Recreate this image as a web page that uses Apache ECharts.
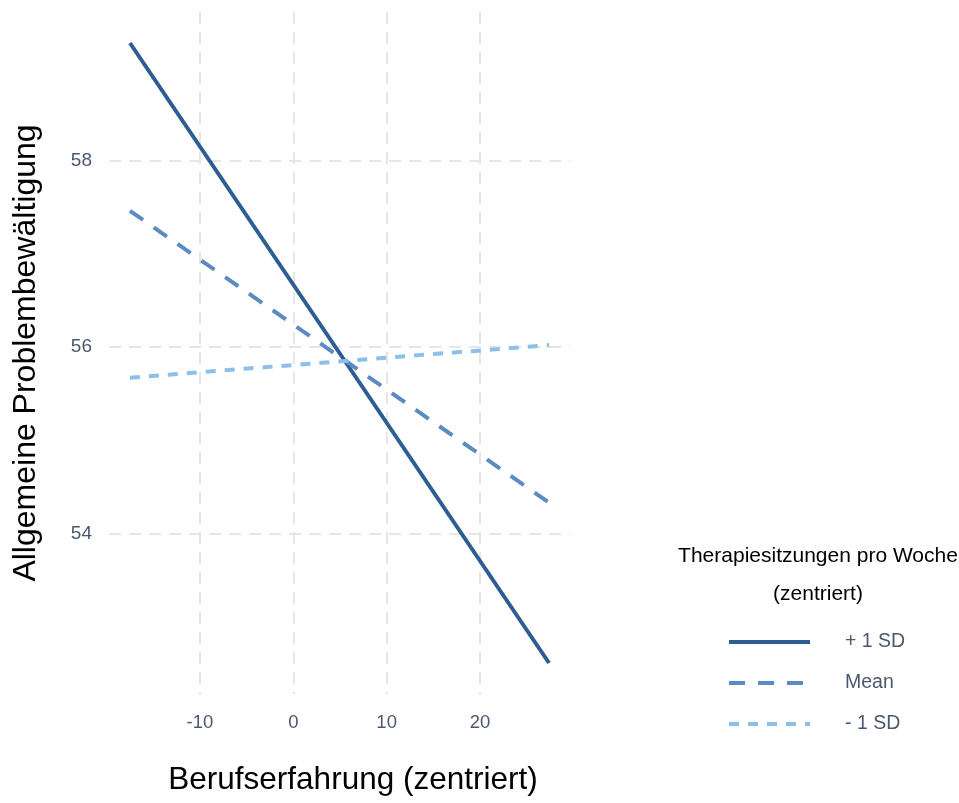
<!DOCTYPE html>
<html>
<head>
<meta charset="utf-8">
<script src="https://cdn.jsdelivr.net/npm/echarts@6/dist/echarts.min.js"></script>
<style>
  html, body { margin: 0; padding: 0; background: #fff; }
  #chart { width: 959px; height: 803px; }
</style>
</head>
<body>
<div id="chart"></div>
<script>
// Simple slopes: predicted coping score across centred work experience,
// for three levels of weekly therapy sessions.
const seriesNames = ['+ 1 SD', 'Mean', '- 1 SD'];
const experience = [-17.5, 27.4];
const plusOneSD = [59.26, 52.61];
const meanLevel = [57.46, 54.33];
const minusOneSD = [55.67, 56.02];

const xTicks = [-10, 0, 10, 20];
const yTicks = [54, 56, 58];

const colors = ['#2d5d93', '#5b8bc2', '#8dc0e9'];
const dashes = ['solid', [16, 13], [10, 9]];
const values = [plusOneSD, meanLevel, minusOneSD];

const font = 'Liberation Sans, Arial, Helvetica, sans-serif';
const tickColor = '#4a5870';

const pairs = v => experience.map((x, i) => [x, v[i]]);

// ggplot-like 5% expansion of the data range
function expand(lo, hi) {
  const pad = (hi - lo) * 0.05;
  return [lo - pad, hi + pad];
}
const allY = plusOneSD.concat(meanLevel, minusOneSD);
const xr = expand(Math.min(...experience), Math.max(...experience));
const yr = expand(Math.min(...allY), Math.max(...allY));

const gridLine = { show: true, lineStyle: { color: '#e6e6e6', width: 2, type: [12, 8] } };

const chart = echarts.init(document.getElementById('chart'));
chart.setOption({
  animation: false,
  backgroundColor: '#ffffff',
  grid: { left: 109, right: 389, top: 12, bottom: 109, containLabel: false },
  xAxis: {
    type: 'value',
    min: xr[0], max: xr[1],
    name: 'Berufserfahrung (zentriert)',
    nameLocation: 'middle',
    nameGap: 70,
    nameTextStyle: { fontFamily: font, fontSize: 31.5, color: '#000', padding: [0, 0, 0, 27] },
    axisLine: { show: false },
    axisTick: { show: false, customValues: xTicks },
    axisLabel: { customValues: xTicks, fontFamily: font, fontSize: 18.5, color: tickColor, margin: 19 },
    splitLine: gridLine
  },
  yAxis: {
    type: 'value',
    min: yr[0], max: yr[1],
    name: 'Allgemeine Problembewältigung',
    nameLocation: 'middle',
    nameGap: 67,
    nameRotate: 90,
    nameTextStyle: { fontFamily: font, fontSize: 32, color: '#000' },
    axisLine: { show: false },
    axisTick: { show: false, customValues: yTicks },
    axisLabel: { customValues: yTicks, fontFamily: font, fontSize: 19, color: tickColor, margin: 17 },
    splitLine: gridLine
  },
  graphic: [
    {
      type: 'text', x: 818, y: 556,
      style: { text: 'Therapiesitzungen pro Woche', font: '21px ' + font, fill: '#000',
               textAlign: 'center', textVerticalAlign: 'middle' }
    },
    {
      type: 'text', x: 818, y: 594,
      style: { text: '(zentriert)', font: '21px ' + font, fill: '#000',
               textAlign: 'center', textVerticalAlign: 'middle' }
    }
  ],
  legend: {
    orient: 'vertical',
    left: 722,
    top: 627,
    itemWidth: 81,
    itemHeight: 18,
    itemGap: 21,
    data: seriesNames,
    itemStyle: { opacity: 0 },
    lineStyle: { width: 4 },
    textStyle: { fontFamily: font, fontSize: 19.5, color: tickColor, padding: [0, 0, 0, 30] }
  },
  series: seriesNames.map((name, i) => ({
    name,
    type: 'line',
    data: pairs(values[i]),
    showSymbol: false,
    symbol: 'none',
    lineStyle: { color: colors[i], width: 4, type: dashes[i], cap: 'butt' },
    itemStyle: { color: colors[i] }
  }))
});
</script>
</body>
</html>
